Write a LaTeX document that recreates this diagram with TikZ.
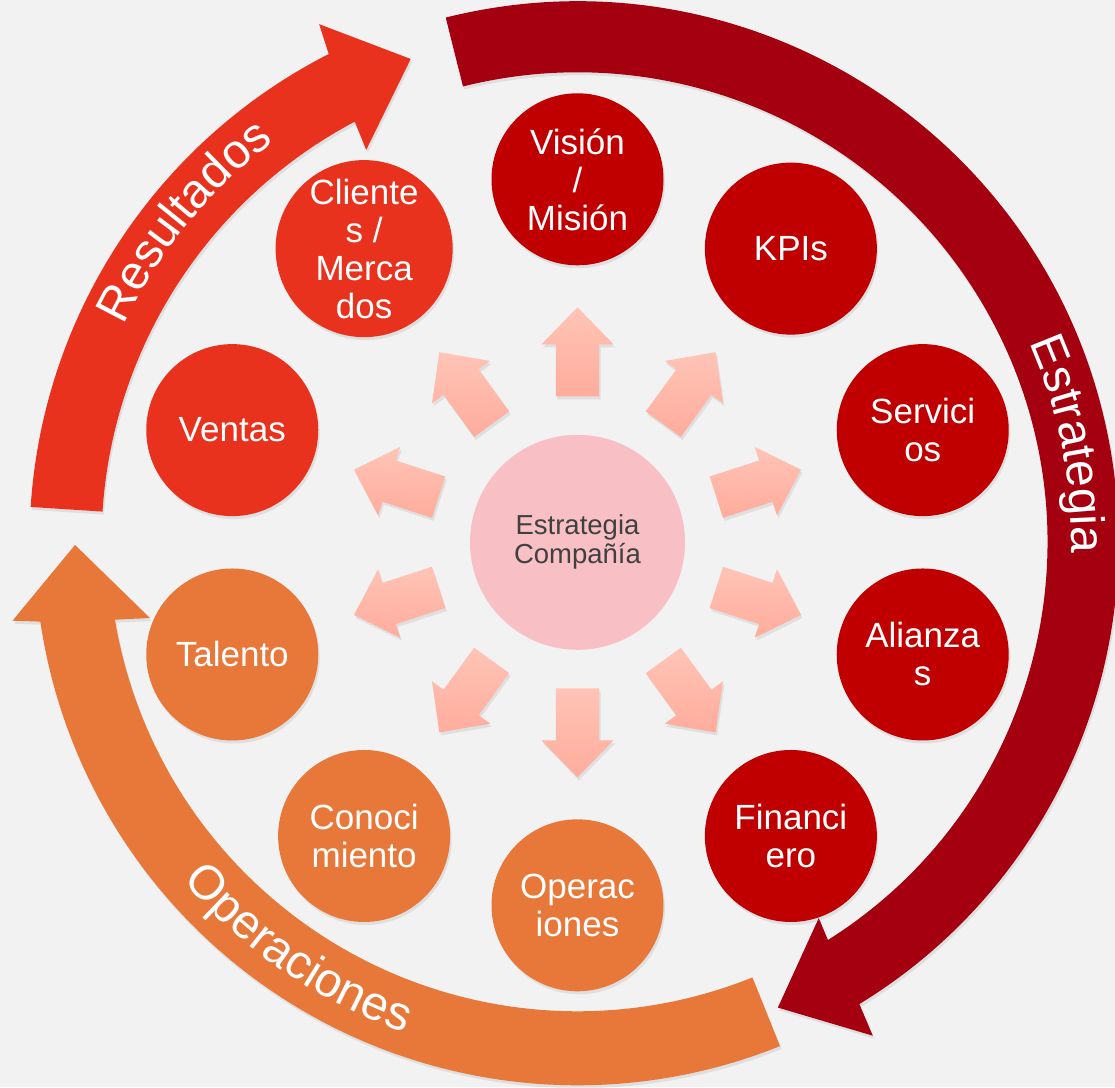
\documentclass[tikz,border=0pt]{standalone}
\usepackage{fontspec}
\setmainfont{Liberation Sans}
\usetikzlibrary{decorations.text,shadows}
\definecolor{bg}{HTML}{F2F2F2}
\definecolor{dred}{HTML}{C00000}
\definecolor{arcred}{HTML}{A5000F}
\definecolor{rorange}{HTML}{E8321E}
\definecolor{orng}{HTML}{E8783A}
\definecolor{pinkc}{HTML}{F8BFC5}
\definecolor{arrowtop}{HTML}{FFC4B6}
\definecolor{arrowbot}{HTML}{FFAC9C}
\definecolor{ctext}{HTML}{404040}
\begin{document}
\begin{tikzpicture}[x=1pt,y=1pt,
  softshadow/.style={drop shadow={opacity=0.16, shadow xshift=1.5pt, shadow yshift=-3pt}},
  item/.style={circle, minimum size=172pt, inner sep=0pt, text=white, align=center,
    font=\fontsize{35}{38}\selectfont, softshadow},
  hub/.style={circle, minimum size=215pt, inner sep=0pt, fill=pinkc, text=ctext,
    align=center, font=\fontsize{27.5}{29}\selectfont},
  blockarrow/.style={top color=arrowtop, bottom color=arrowbot, softshadow},
  band/.style={softshadow}
]
% background / bounding box
\path[use as bounding box, fill=bg] (-577.5,-544.7) rectangle (537.5,542.3);

% outer circular arrows
\fill[arcred, band] (104.1:541pt) arc[start angle=104.1, end angle=-58.6, radius=541pt]
  -- (-59.1:575pt) -- (-66.7:506.6pt) -- (-57.3:446.6pt) -- (-57.8:470pt)
  arc[start angle=-57.8, end angle=104.1, radius=470pt] -- cycle;
\fill[orng, band] (-68.1:543pt) arc[start angle=-68.1, end angle=-171.6, radius=543pt]
  -- (-172.1:570.4pt) -- (-179.7:502.5pt) -- (-169.96:434.2pt) -- (-170.5:469pt)
  arc[start angle=-170.5, end angle=-68.1, radius=469pt] -- cycle;
\fill[rorange, band] (176.3:548pt) arc[start angle=176.3, end angle=117.0, radius=548pt]
  -- (116.5:579pt) -- (109.04:511.3pt) -- (118.3:445.7pt) -- (117.9:476pt)
  arc[start angle=117.9, end angle=176.3, radius=476pt] -- cycle;

% labels on the bands
\path[decorate, decoration={text along path, text align=center,
  text={|\fontsize{48}{48}\selectfont\color{white}|Estrategia}}]
  (41.3:494pt) arc[start angle=41.3, end angle=-18.7, radius=494pt];
\path[decorate, decoration={text along path, text align=center,
  text={|\fontsize{48}{48}\selectfont\color{white}|Resultados}}]
  (170.8:503pt) arc[start angle=170.8, end angle=110.8, radius=503pt];
\path[decorate, decoration={text along path, text align=center,
  text={|\fontsize{48}{48}\selectfont\color{white}|Operaciones}}]
  (-154.4:520pt) arc[start angle=-154.4, end angle=-94.4, radius=520pt];

% radiating block arrows
\foreach \a in {90,54,18,-18,-54,-90,-126,-162,162,126}
  \path[blockarrow, rotate=\a] (146,-21.7) -- (198,-21.7) -- (198,-36) -- (235,0)
    -- (198,36) -- (198,21.7) -- (146,21.7) -- cycle;

% hub
\node[hub] (hub) at (0,0) {Estrategia\\Compañía};

% surrounding circles
\node[item, fill=dred]    (vision)  at (90:363pt)   {Visión\\/\\Misión};
\node[item, fill=dred]    (kpis)    at (54:363pt)   {KPIs};
\node[item, fill=dred]    (serv)    at (18:363pt)   {Servici\\os};
\node[item, fill=dred]    (alian)   at (-18:363pt)  {Alianza\\s};
\node[item, fill=dred]    (finan)   at (-54:363pt)  {Financi\\ero};
\node[item, fill=orng]    (opera)   at (-90:363pt)  {Operac\\iones};
\node[item, fill=orng]    (conoc)   at (-126:363pt) {Conoci\\miento};
\node[item, fill=orng]    (talen)   at (-162:363pt) {Talento};
\node[item, fill=rorange] (ventas)  at (162:363pt)  {Ventas};
\node[item, fill=rorange] (clien)   at (126:363pt)  {Cliente\\s /\\Merca\\dos};
\end{tikzpicture}
\end{document}
